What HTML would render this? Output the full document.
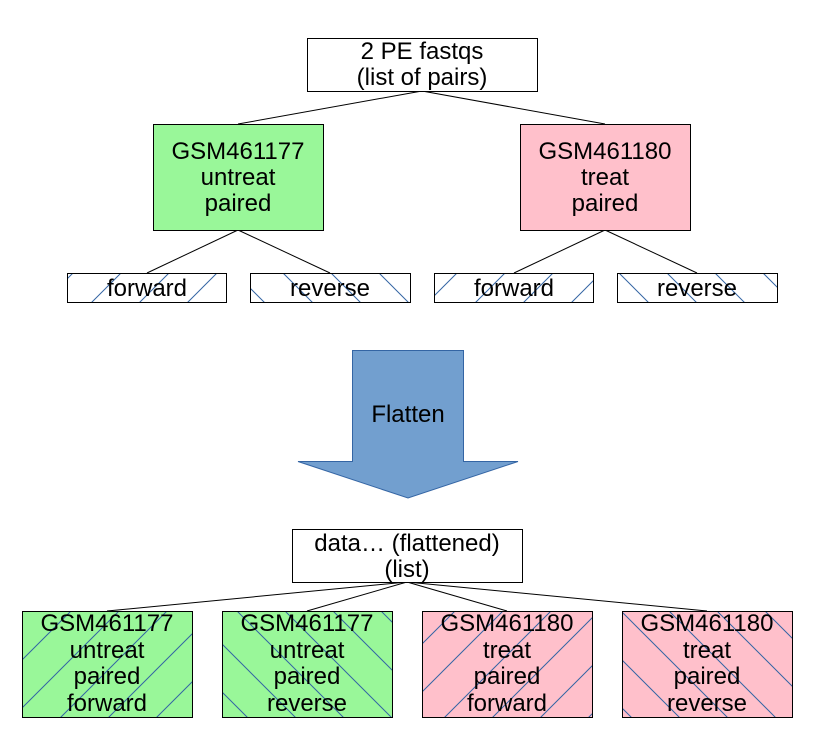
<!DOCTYPE html>
<html><head><meta charset="utf-8"><style>
html,body{margin:0;padding:0;background:#fff;}
svg{display:block;}
text{font-family:"Liberation Sans",sans-serif;font-size:24px;fill:#000;text-anchor:middle;}
</style></head><body>
<svg width="816" height="756" viewBox="0 0 816 756" xmlns="http://www.w3.org/2000/svg">
<defs>
<pattern id="fw" patternUnits="userSpaceOnUse" width="48" height="48" x="10" y="0">
<path d="M-4,52 L52,-4 M-4,4 L4,-4 M44,52 L52,44" stroke="#3465a4" stroke-width="1"/>
</pattern>
<pattern id="rv" patternUnits="userSpaceOnUse" width="48" height="48" x="10" y="0">
<path d="M-4,-4 L52,52 M44,-4 L52,4 M-4,44 L4,52" stroke="#3465a4" stroke-width="1"/>
</pattern>
</defs>
<g stroke="#000" stroke-width="1" fill="none">
<line x1="422" y1="91" x2="238" y2="124"/>
<line x1="422" y1="91" x2="605" y2="124"/>
<line x1="238" y1="230" x2="147" y2="273"/>
<line x1="238" y1="230" x2="330" y2="273"/>
<line x1="605" y1="230" x2="514" y2="273"/>
<line x1="605" y1="230" x2="697" y2="273"/>
<line x1="407" y1="582" x2="107" y2="611"/>
<line x1="407" y1="582" x2="307" y2="611"/>
<line x1="407" y1="582" x2="507" y2="611"/>
<line x1="407" y1="582" x2="707" y2="611"/>
</g>
<rect x="307.5" y="38.5" width="230" height="53" fill="#fff" stroke="#000"/>
<text x="422" y="59">2 PE fastqs</text>
<text x="422" y="85">(list of pairs)</text>

<rect x="153.5" y="124.5" width="170" height="106" fill="#99f799" stroke="#000"/>
<text x="238" y="159">GSM461177</text><text x="238" y="185">untreat</text><text x="238" y="211">paired</text>
<rect x="520.5" y="124.5" width="170" height="106" fill="#ffc0cb" stroke="#000"/>
<text x="605" y="159">GSM461180</text><text x="605" y="185">treat</text><text x="605" y="211">paired</text>

<rect x="67.5" y="273.5" width="159" height="29" fill="url(#fw)" stroke="#000"/>
<text x="147" y="296">forward</text>
<rect x="250.5" y="273.5" width="160" height="29" fill="url(#rv)" stroke="#000"/>
<text x="330" y="296">reverse</text>
<rect x="434.5" y="273.5" width="159" height="29" fill="url(#fw)" stroke="#000"/>
<text x="514" y="296">forward</text>
<rect x="617.5" y="273.5" width="160" height="29" fill="url(#rv)" stroke="#000"/>
<text x="697" y="296">reverse</text>

<path d="M352.5,350.5 L463.5,350.5 L463.5,461.5 L518,461.5 L408,498 L298,461.5 L352.5,461.5 Z" fill="#729fcf" stroke="#3465a4"/>
<text x="408" y="422">Flatten</text>

<rect x="292.5" y="529.5" width="230" height="53" fill="#fff" stroke="#000"/>
<text x="407" y="551">data… (flattened)</text>
<text x="407" y="577">(list)</text>

<rect x="22.5" y="611.5" width="170" height="106" fill="#99f799" stroke="#000"/>
<rect x="22.5" y="611.5" width="170" height="106" fill="url(#fw)" stroke="#000"/>
<text x="107" y="631">GSM461177</text><text x="107" y="658">untreat</text><text x="107" y="684">paired</text><text x="107" y="711">forward</text>
<rect x="222.5" y="611.5" width="170" height="106" fill="#99f799" stroke="#000"/>
<rect x="222.5" y="611.5" width="170" height="106" fill="url(#rv)" stroke="#000"/>
<text x="307" y="631">GSM461177</text><text x="307" y="658">untreat</text><text x="307" y="684">paired</text><text x="307" y="711">reverse</text>
<rect x="422.5" y="611.5" width="170" height="106" fill="#ffc0cb" stroke="#000"/>
<rect x="422.5" y="611.5" width="170" height="106" fill="url(#fw)" stroke="#000"/>
<text x="507" y="631">GSM461180</text><text x="507" y="658">treat</text><text x="507" y="684">paired</text><text x="507" y="711">forward</text>
<rect x="622.5" y="611.5" width="170" height="106" fill="#ffc0cb" stroke="#000"/>
<rect x="622.5" y="611.5" width="170" height="106" fill="url(#rv)" stroke="#000"/>
<text x="707" y="631">GSM461180</text><text x="707" y="658">treat</text><text x="707" y="684">paired</text><text x="707" y="711">reverse</text>
</svg>
</body></html>
